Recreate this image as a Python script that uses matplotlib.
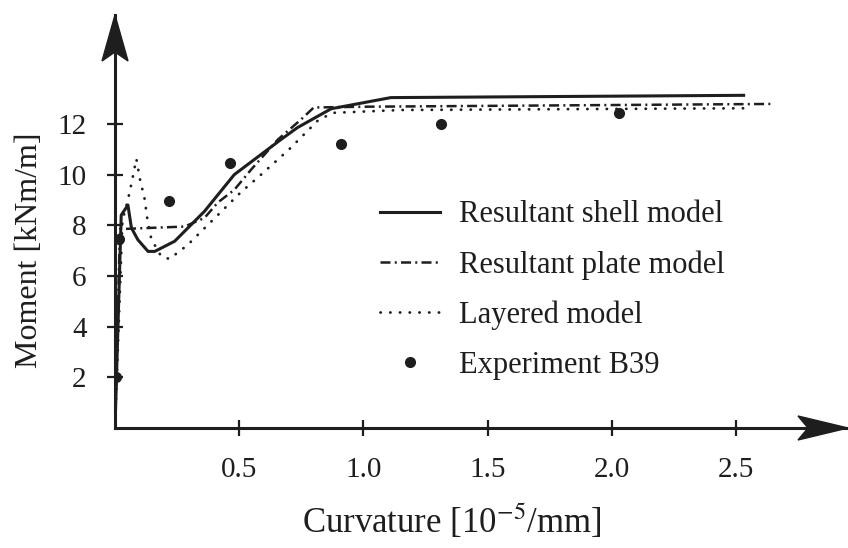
import matplotlib
matplotlib.use("Agg")
import matplotlib.pyplot as plt
from matplotlib.patches import Polygon
from matplotlib.transforms import Affine2D, ScaledTranslation

plt.rcParams['font.family'] = ['Liberation Serif', 'DejaVu Serif']
plt.rcParams['mathtext.fontset'] = 'stix'

# ---- Resultant shell model ----
shell_x = [0, 0.025, 0.052, 0.066, 0.092, 0.133, 0.16, 0.24, 0.36, 0.48, 0.667, 0.735, 0.87, 1.11, 2.53]
shell_y = [0, 8.4, 8.8, 7.9, 7.43, 6.97, 6.97, 7.37, 8.55, 10.0, 11.38, 11.86, 12.6, 13.04, 13.13]

# ---- Resultant plate model ----
plate_x = [0, 0.02, 0.28, 0.36, 0.414, 0.48, 0.548, 0.655, 0.748, 0.80, 1.0, 2.65]
plate_y = [0, 7.85, 7.95, 8.29, 8.9, 9.4, 10.2, 11.38, 12.17, 12.65, 12.68, 12.79]

# ---- Layered model ----
layer_x = [0, 0.03, 0.052, 0.07, 0.086, 0.10, 0.119, 0.13, 0.146, 0.186, 0.22, 0.253, 0.293,
           0.334, 0.506, 0.58, 0.64, 0.70, 0.76, 0.82, 0.88, 1.15, 2.55]
layer_y = [0, 8.2, 9.0, 9.83, 10.62, 9.84, 9.05, 8.26, 7.46, 6.77, 6.67, 6.93, 7.23,
           7.63, 9.3, 9.93, 10.46, 10.99, 11.58, 12.17, 12.44, 12.55, 12.62]

# ---- Experiment B39 ----
exp_x = [0.005, 0.015, 0.217, 0.464, 0.91, 1.31, 2.03]
exp_y = [2.0, 7.45, 8.97, 10.46, 11.21, 11.98, 12.44]

xticks = [0.5, 1.0, 1.5, 2.0, 2.5]
xticklabels = ['0.5', '1.0', '1.5', '2.0', '2.5']
yticks = [2, 4, 6, 8, 10, 12]

ink = '#1e1e1e'

fig = plt.figure(figsize=(8.48, 5.48), dpi=100)
ax = fig.add_axes([115 / 848, 120 / 548, 733 / 848, 413 / 548])

ax.plot(shell_x, shell_y, color=ink, lw=2.2, label='Resultant shell model')
ax.plot(plate_x, plate_y, color=ink, lw=1.8, linestyle=(0, (4, 1.7, 0.8, 1.7)),
        label='Resultant plate model')
ax.plot(layer_x, layer_y, color=ink, lw=2.0, linestyle=(0, (0.1, 3.4)),
        dash_capstyle='round', label='Layered model')
ax.plot(exp_x, exp_y, 'o', color=ink, markersize=7, linestyle='None', label='Experiment B39')

ax.set_xlim(0, 2.95)
ax.set_ylim(0, 16.3)

for s in ['top', 'right']:
    ax.spines[s].set_visible(False)
for s in ['left', 'bottom']:
    ax.spines[s].set_linewidth(2.2)
    ax.spines[s].set_color(ink)

ax.set_xticks(xticks)
ax.set_xticklabels(xticklabels)
ax.set_yticks(yticks)
ax.tick_params(direction='inout', length=12, width=1.6, color=ink, labelsize=21,
               labelcolor=ink)
ax.tick_params(axis='x', pad=15)
ax.tick_params(axis='y', pad=14.5)

ax.set_xlabel('Curvature [10$^{-5}$/mm]', fontsize=25, color=ink)
ax.xaxis.set_label_coords(0.46, -0.18)
ax.set_ylabel('Moment [kNm/m]', fontsize=23, color=ink)
ax.yaxis.set_label_coords(-0.097, 0.431)

leg = ax.legend(loc='upper left', bbox_to_anchor=(0.3615, 0.551), frameon=False,
                fontsize=22, handlelength=1.95, handletextpad=0.65, labelspacing=0.68,
                borderpad=0, borderaxespad=0, numpoints=1)
for t in leg.get_texts():
    t.set_color(ink)

# arrow heads on the axes (pixel offsets)
px = Affine2D().scale(1 / fig.dpi) + fig.dpi_scale_trans
up = Polygon([(0, 0), (-13, -46), (0, -37), (13, -46)], closed=True, color=ink,
             transform=px + ScaledTranslation(0, 1, ax.transAxes), clip_on=False)
right = Polygon([(0, 0), (-50, 12), (-40, 0), (-50, -12)], closed=True, color=ink,
                transform=px + ScaledTranslation(1, 0, ax.transAxes), clip_on=False)
ax.add_patch(up)
ax.add_patch(right)

fig.savefig('out.png', dpi=100)
